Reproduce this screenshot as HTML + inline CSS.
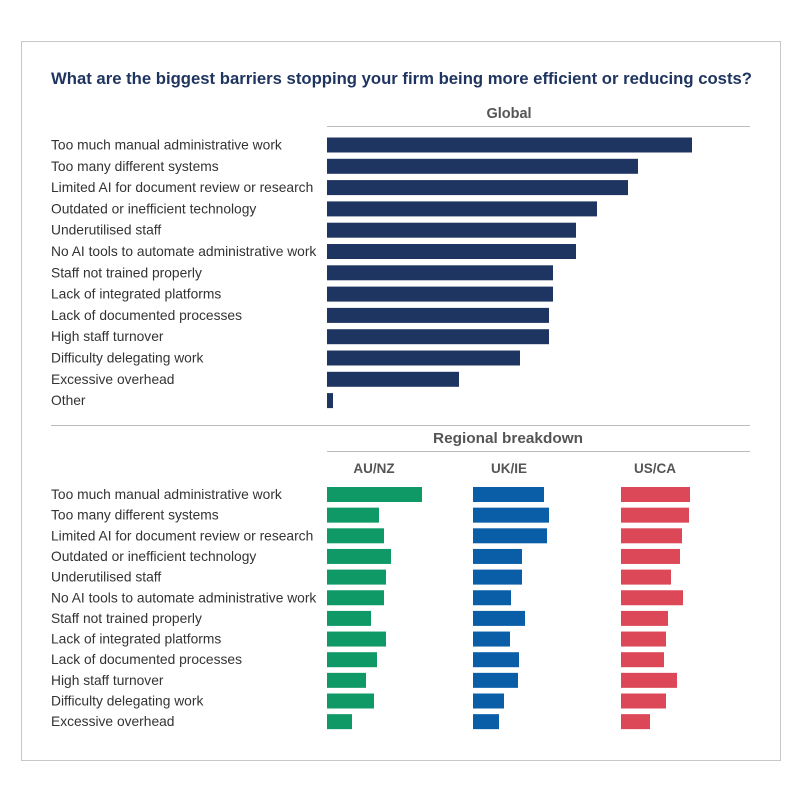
<!DOCTYPE html>
<html><head><meta charset="utf-8"><style>
body{margin:0;background:#fff;}
svg text{font-family:"Liberation Sans",sans-serif;}
</style></head><body>
<svg width="800" height="800" xmlns="http://www.w3.org/2000/svg">
<rect x="21.5" y="41.5" width="759" height="719" fill="#fff" stroke="#c8c8c8"/>
<text x="51" y="84" font-size="17" font-weight="bold" fill="#1f3560" textLength="701" lengthAdjust="spacingAndGlyphs">What are the biggest barriers stopping your firm being more efficient or reducing costs?</text>
<text x="509" y="118" text-anchor="middle" font-size="14.5" font-weight="bold" fill="#555">Global</text>
<line x1="327" y1="126.5" x2="750" y2="126.5" stroke="#bbb"/>
<line x1="51" y1="425.5" x2="750" y2="425.5" stroke="#bbb"/>
<text x="433" y="443" font-size="14.5" font-weight="bold" fill="#555" textLength="150" lengthAdjust="spacingAndGlyphs">Regional breakdown</text>
<line x1="327" y1="451.5" x2="750" y2="451.5" stroke="#bbb"/>
<g id="g"></g>
</svg>
<script>
const globalCats=["Too much manual administrative work","Too many different systems","Limited AI for document review or research","Outdated or inefficient technology","Underutilised staff","No AI tools to automate administrative work","Staff not trained properly","Lack of integrated platforms","Lack of documented processes","High staff turnover","Difficulty delegating work","Excessive overhead","Other"];
const globalVals=[365,311,301,270,249,249,226,226,222,222,193,132,6];
const regions=["AU/NZ","UK/IE","US/CA"];
const auVals=[95,52,57,64,59,57,44,59,50,39,47,25];
const ukVals=[71,76,74,49,49,38,52,37,46,45,31,26];
const usVals=[69,68,61,59,50,62,47,45,43,56,45,29];
const NS="http://www.w3.org/2000/svg";
const g=document.getElementById('g');
function mk(t,a,txt){const e=document.createElementNS(NS,t);for(const k in a)e.setAttribute(k,a[k]);if(txt!==undefined)e.textContent=txt;g.appendChild(e);return e;}
const gx=v=>v;
const gy=i=>145+i*21.3;
const FS=13.8;
globalCats.forEach((c,i)=>{
 const t=mk('text',{x:51,y:gy(i)+4.5,'font-size':FS,fill:'#333'},c);
 
 
 const r=mk('rect',{x:327,y:gy(i)-7.5,width:gx(globalVals[i]),height:15,fill:'#1f3561'});
 
 
});
const ry=i=>494.5+i*20.65;
const starts=[327,473,621],centers=[374,509,655],cols=['#0e9966','#0a5ea8','#dd4858'];
const rv=[auVals,ukVals,usVals];
regions.forEach((r,j)=>{
 const h=mk('text',{x:centers[j],y:473,'text-anchor':'middle','font-size':13.5,'font-weight':'bold',fill:'#555'},r);
 
 
 rv[j].forEach((v,i)=>{
  const b=mk('rect',{x:starts[j],y:ry(i)-7.5,width:v,height:15,fill:cols[j]});
  
  
 });
});
globalCats.slice(0,12).forEach((c,i)=>{
 const t=mk('text',{x:51,y:ry(i)+4.5,'font-size':FS,fill:'#333'},c);
 
 
});
</script>
</body></html>
